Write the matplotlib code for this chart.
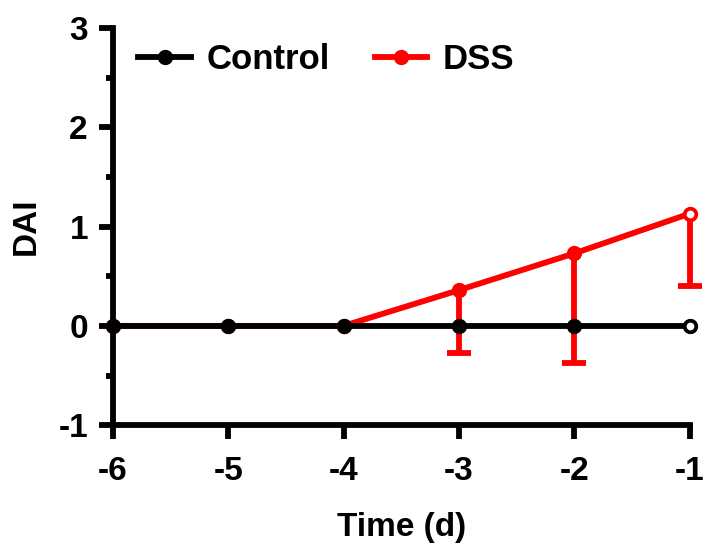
import matplotlib
matplotlib.use("Agg")
import matplotlib.pyplot as plt
from matplotlib.lines import Line2D
from matplotlib.ticker import MultipleLocator

days = [-6, -5, -4, -3, -2, -1]
control_dai = [0, 0, 0, 0, 0, 0]
dss_dai = [0, 0, 0, 0.36, 0.73, 1.13]
dss_sd = [0, 0, 0, 0.63, 1.10, 0.73]

plt.rcParams["font.family"] = ["Liberation Sans", "DejaVu Sans"]
plt.rcParams["font.weight"] = "bold"
plt.rcParams["axes.unicode_minus"] = False

fig = plt.figure(figsize=(7.04, 5.5), dpi=100)
ax = fig.add_axes([0.1605, 0.227, 0.819, 0.722])

lw = 4.2
ms = 10
red = "#ff0000"

# DSS line, then downward-only error bars with a cap at the lower end
ax.plot(days, dss_dai, color=red, lw=lw, marker="o", ms=ms, zorder=3,
        clip_on=False)
err_x = [d for d, s in zip(days, dss_sd) if s > 0]
err_top = [y for y, s in zip(dss_dai, dss_sd) if s > 0]
err_low = [y - s for y, s in zip(dss_dai, dss_sd) if s > 0]
ax.vlines(err_x, err_low, err_top, color=red, lw=lw, zorder=3, clip_on=False)
ax.plot(err_x, err_low, ls="none", marker="_", ms=17, mew=lw, color=red,
        zorder=3, clip_on=False)
ax.plot(days[-1:], dss_dai[-1:], "o", ms=ms - 2, mfc="white", mec=red,
        mew=2.4, zorder=3.5, clip_on=False)

ax.plot(days, control_dai, color="black", lw=lw, marker="o", ms=ms, zorder=4,
        clip_on=False)
ax.plot(days[-1:], control_dai[-1:], "o", ms=ms - 2, mfc="white", mec="black",
        mew=2.4, zorder=4.5, clip_on=False)

ax.set_xlim(-6, -1)
ax.set_ylim(-1, 3)
ax.set_xticks(days)
ax.set_yticks([-1, 0, 1, 2, 3])
ax.yaxis.set_minor_locator(MultipleLocator(0.5))

for s in ["top", "right"]:
    ax.spines[s].set_visible(False)
for s in ["left", "bottom"]:
    ax.spines[s].set_linewidth(lw)
    ax.spines[s].set_zorder(5)

ax.tick_params(axis="both", which="major", direction="out", width=lw,
               length=10, labelsize=24, pad=8)
ax.tick_params(axis="x", which="major", pad=12)
ax.tick_params(axis="y", which="minor", direction="out", width=lw, length=5)
for lab in ax.get_xticklabels() + ax.get_yticklabels():
    lab.set_fontweight("bold")

ax.set_xlabel("Time (d)", fontsize=24, fontweight="bold", labelpad=18)
ax.set_ylabel("DAI", fontsize=24, fontweight="bold", labelpad=12)

handles = [
    Line2D([], [], color="black", lw=lw, marker="o", ms=ms),
    Line2D([], [], color=red, lw=lw, marker="o", ms=ms),
]
ax.legend(handles, ["Control", "DSS"], loc="upper left", ncol=2,
          frameon=False, fontsize=25, bbox_to_anchor=(-0.01, 1.04),
          handlelength=1.5, columnspacing=1.3, handletextpad=0.45)

fig.savefig("out.png", dpi=100)
